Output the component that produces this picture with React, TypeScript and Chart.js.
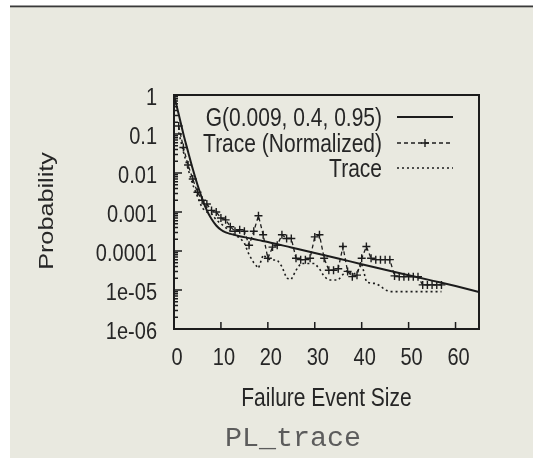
import React, { useEffect, useRef } from 'react';
import { Chart, registerables } from 'chart.js';

Chart.register(...registerables);

const W = 533;
const H = 458;

// ---- data ----
const xTickValues = [0, 10, 20, 30, 40, 50, 60];
const xTickLabels = ['0', '10', '20', '30', '40', '50', '60'];
const yTickValues = [1, 0.1, 0.01, 0.001, 0.0001, 0.00001, 0.000001];
const yTickLabels = ['1', '0.1', '0.01', '0.001', '0.0001', '1e-05', '1e-06'];

const legendLabels = ['G(0.009, 0.4, 0.95)', 'Trace (Normalized)', 'Trace'];
const xTitle = 'Failure Event Size';
const yTitle = 'Probability';
const caption = 'PL_trace';

// fitted model G
const gX = [0, 1, 2, 3, 4, 5, 6, 7, 8, 9, 10, 11, 12, 14, 16, 18, 20, 25, 30, 35, 40, 45, 50, 55, 60, 65];
const gY = [1, 0.32, 0.1, 0.035, 0.0126, 0.005, 0.0022, 0.0011, 0.00066, 0.00045, 0.00035, 0.0003, 0.000275,
  0.00024, 0.000214, 0.00019, 0.00017, 0.000123, 0.000089, 0.0000646, 0.0000457, 0.0000331, 0.000024,
  0.0000174, 0.0000126, 0.0000089];

// event sizes of the traces
const traceX = [1, 2, 3, 4, 5, 6, 7, 8, 9, 10, 11, 12, 13, 14, 15, 16, 17, 18, 19, 20,
  21, 22, 23, 24, 25, 26, 27, 28, 29, 30, 31, 32, 33, 34, 35, 36, 37, 38, 39, 40,
  41, 42, 43, 44, 45, 46, 47, 48, 49, 50, 51, 52, 53, 54, 55, 56, 57];

const normY = [0.16, 0.045, 0.016, 0.007, 0.0032, 0.002, 0.0016, 0.0011, 0.001, 0.0007,
  0.00063, 0.00042, 0.00032, 0.00035, 0.00032, 0.00014, 0.00032, 0.0008, 0.00026, 0.000065,
  0.000126, 0.00014, 0.00026, 0.00021, 0.00021, 0.000065, 0.00006, 0.00006, 0.000065, 0.00023,
  0.00026, 0.000065, 0.000032, 0.000032, 0.000035, 0.00013, 0.00003, 0.000022, 0.000024, 0.000065,
  0.00013, 0.000065, 0.00006, 0.00006, 0.00006, 0.00006, 0.000023, 0.000022, 0.000022, 0.000022,
  0.000022, 0.000022, 0.0000135, 0.0000135, 0.0000135, 0.0000135, 0.0000135];

const traceY = [0.11, 0.035, 0.0126, 0.005, 0.0025, 0.00126, 0.001, 0.0009, 0.00063, 0.0005,
  0.0004, 0.00032, 0.00025, 0.00022, 0.00016, 0.00008, 0.00005, 0.000036, 0.00008, 0.000063,
  0.000059, 0.000059, 0.00004, 0.00002, 0.0000186, 0.000032, 0.000048, 0.000048, 0.000048, 0.000048,
  0.000035, 0.000022, 0.000018, 0.000018, 0.000018, 0.000025, 0.000032, 0.000025, 0.000028, 0.000048,
  0.000016, 0.0000148, 0.0000148, 0.0000126, 0.00001, 0.0000091, 0.0000091, 0.0000091, 0.0000091, 0.0000091,
  0.0000091, 0.0000091, 0.0000091, 0.0000091, 0.0000091, 0.0000091, 0.0000091];

// ---- styles ----
const SANS = "'Liberation Sans', Arial, Helvetica, sans-serif";
const INK = '#1c1c1c';
const TEXT = '#262626';
const BG = '#e9e9e0';
const STRETCH = 1.2; // the scanned figure is taller than wide

function drawText(ctx: any, text: string, x: number, y: number, align: string, size: number, rotate = false) {
  ctx.save();
  ctx.font = `${size}px ${SANS}`;
  ctx.fillStyle = TEXT;
  ctx.textAlign = align;
  ctx.textBaseline = 'alphabetic';
  ctx.translate(x, y);
  if (rotate) {
    ctx.rotate(-Math.PI / 2);
    ctx.scale(STRETCH, 1);
  } else {
    ctx.scale(1, STRETCH);
  }
  // y given as visual centre of cap height
  ctx.fillText(text, 0, size * 0.358);
  ctx.restore();
}

const backgroundPlugin = {
  id: 'paperBg',
  beforeDraw(chart: any) {
    const ctx = chart.ctx;
    ctx.save();
    ctx.fillStyle = '#ffffff';
    ctx.fillRect(0, 0, W, H);
    ctx.fillStyle = BG;
    ctx.fillRect(10, 7, W - 10, H - 7);
    ctx.fillStyle = '#3a3a3a';
    ctx.fillRect(10, 5.5, W - 10, 1.8);
    ctx.restore();
  },
};

const axesPlugin = {
  id: 'frameTicks',
  afterDatasetsDraw(chart: any) {
    const ctx = chart.ctx;
    const { left, right, top, bottom } = chart.chartArea;
    const xs = chart.scales.x;
    const ys = chart.scales.y;
    ctx.save();
    ctx.strokeStyle = INK;
    ctx.lineWidth = 2;
    ctx.strokeRect(left, top, right - left, bottom - top);
    ctx.lineWidth = 1.5;
    ctx.beginPath();
    for (let e = 0; e >= -6; e--) {
      for (let m = 1; m <= 9; m++) {
        const v = m === 1 ? Math.pow(10, e) : m * Math.pow(10, e - 1);
        if (v < 1e-6 || v > 1) continue;
        const py = ys.getPixelForValue(v);
        const len = m === 1 ? 8 : 4;
        ctx.moveTo(left, py);
        ctx.lineTo(left + len, py);
      }
    }
    xTickValues.forEach((v) => {
      const px = xs.getPixelForValue(v);
      ctx.moveTo(px, bottom);
      ctx.lineTo(px, bottom - 7);
    });
    ctx.stroke();
    ctx.restore();

    // tick labels
    yTickValues.forEach((v, i) => {
      drawText(ctx, yTickLabels[i], left - 17, ys.getPixelForValue(v) + 1.5, 'right', 20);
    });
    xTickValues.forEach((v, i) => {
      drawText(ctx, xTickLabels[i], xs.getPixelForValue(v) + 3, 356, 'center', 20);
    });
    // axis titles
    drawText(ctx, xTitle, (left + right) / 2, 397, 'center', 21);
    drawText(ctx, yTitle, 45, 211, 'center', 21, true);
  },
};

const legendPlugin = {
  id: 'gnuLegend',
  afterDatasetsDraw(chart: any) {
    const ctx = chart.ctx;
    const rows = [117, 143, 168];
    const tx = 382;
    const sx0 = 397;
    const sx1 = 453;
    chart.data.datasets.forEach((ds: any, i: number) => {
      const y = rows[i];
      drawText(ctx, ds.label, tx, y, 'right', 21);
      ctx.save();
      ctx.strokeStyle = ds.borderColor;
      ctx.lineWidth = ds.borderWidth;
      ctx.setLineDash(ds.borderDash || []);
      ctx.beginPath();
      ctx.moveTo(sx0, y);
      ctx.lineTo(sx1, y);
      ctx.stroke();
      ctx.setLineDash([]);
      if (ds.pointRadius > 0) {
        const cx = (sx0 + sx1) / 2;
        ctx.lineWidth = ds.pointBorderWidth;
        ctx.beginPath();
        ctx.moveTo(cx - 4, y);
        ctx.lineTo(cx + 4, y);
        ctx.moveTo(cx, y - 4);
        ctx.lineTo(cx, y + 4);
        ctx.stroke();
      }
      ctx.restore();
    });
  },
};

const captionPlugin = {
  id: 'caption',
  afterDraw(chart: any) {
    const ctx = chart.ctx;
    ctx.save();
    ctx.font = `27px 'Liberation Mono', 'DejaVu Sans Mono', monospace`;
    ctx.fillStyle = '#5c5c5c';
    ctx.textAlign = 'center';
    ctx.textBaseline = 'middle';
    ctx.translate(293, 439);
    ctx.scale(1.05, 1);
    ctx.fillText(caption, 0, 0);
    ctx.restore();
  },
};

export default function App() {
  const ref = useRef<HTMLCanvasElement | null>(null);

  useEffect(() => {
    if (!ref.current) return;
    const chart = new Chart(ref.current, {
      type: 'line',
      data: {
        datasets: [
          {
            label: legendLabels[0],
            data: gX.map((x, i) => ({ x, y: gY[i] })),
            borderColor: INK,
            borderWidth: 2,
            pointRadius: 0,
            cubicInterpolationMode: 'monotone',
            fill: false,
          },
          {
            label: legendLabels[1],
            data: traceX.map((x, i) => ({ x, y: normY[i] })),
            borderColor: INK,
            borderWidth: 1.3,
            borderDash: [4, 3],
            pointStyle: 'cross',
            pointRadius: 4,
            pointBorderWidth: 1.4,
            pointBorderColor: INK,
            pointBackgroundColor: INK,
            tension: 0,
            fill: false,
          },
          {
            label: legendLabels[2],
            data: traceX.map((x, i) => ({ x, y: traceY[i] })),
            borderColor: INK,
            borderWidth: 1.6,
            borderDash: [2, 3],
            pointRadius: 0,
            tension: 0,
            fill: false,
          },
        ],
      } as any,
      options: {
        responsive: false,
        animation: false,
        devicePixelRatio: 1,
        layout: { padding: { left: 0, top: 95, right: 54, bottom: 0 } },
        plugins: { legend: { display: false }, tooltip: { enabled: false } },
        scales: {
          x: {
            type: 'linear',
            min: 0,
            max: 65,
            afterFit: (s: any) => { s.height = H - 329; },
            afterBuildTicks: (s: any) => { s.ticks = xTickValues.map((v) => ({ value: v })); },
            grid: { display: false, drawTicks: false },
            border: { display: false },
            ticks: { display: false },
            title: { display: false },
          },
          y: {
            type: 'logarithmic',
            min: 1e-6,
            max: 1,
            afterFit: (s: any) => { s.width = 174; },
            afterBuildTicks: (s: any) => { s.ticks = yTickValues.map((v) => ({ value: v })); },
            grid: { display: false, drawTicks: false },
            border: { display: false },
            ticks: { display: false },
            title: { display: false },
          },
        },
      } as any,
      plugins: [backgroundPlugin, axesPlugin, legendPlugin, captionPlugin],
    });
    return () => chart.destroy();
  }, []);

  return (
    <div style={{ position: 'fixed', left: 0, top: 0, width: W, height: H }}>
      <canvas ref={ref} width={W} height={H} style={{ display: 'block', width: W, height: H }} />
    </div>
  );
}
